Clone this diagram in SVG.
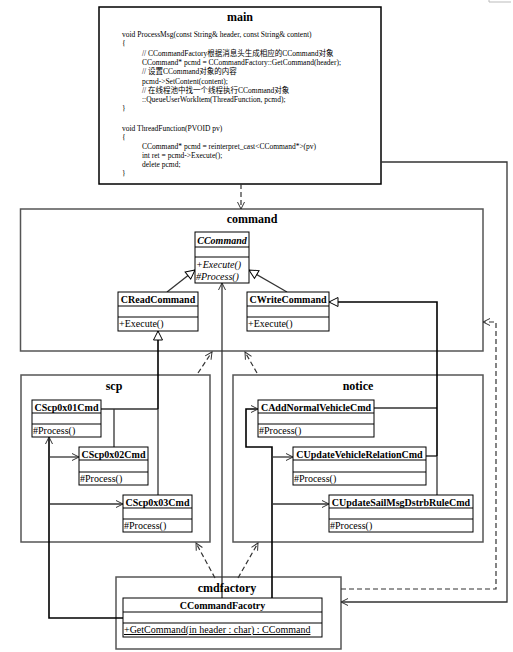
<svg xmlns="http://www.w3.org/2000/svg" width="513" height="652" viewBox="0 0 513 652">
<style>
.pkg{fill:#fff;stroke:#555;stroke-width:1.5}
.cls{fill:#fff;stroke:#000;stroke-width:1}
.sep{stroke:#000;stroke-width:1}
.ttl{font-family:"Liberation Serif",serif;font-weight:bold;font-size:12px;text-anchor:middle;fill:#000}
.cn{font-family:"Liberation Serif",serif;font-weight:bold;font-size:10px;text-anchor:middle;fill:#000}
.op{font-family:"Liberation Serif",serif;font-size:10px;fill:#000}
.code{font-family:"Liberation Serif","Noto Sans CJK SC",serif;font-size:7.5px;fill:#000}
.c{fill:none;stroke:#333;stroke-width:1.3}
.cb{fill:none;stroke:#000;stroke-width:1.6}
.d{fill:none;stroke:#333;stroke-width:1.2;stroke-dasharray:5 3}
</style>
<defs>
<marker id="open" viewBox="0 0 8 8" refX="7" refY="4" markerWidth="8" markerHeight="8" markerUnits="userSpaceOnUse" orient="auto" overflow="visible">
<path d="M0,0.5 L7,4 L0,7.5" fill="none" stroke="#333" stroke-width="1"/>
</marker>
<marker id="tri" viewBox="0 0 10 10" refX="9" refY="5" markerWidth="10" markerHeight="10" markerUnits="userSpaceOnUse" orient="auto" overflow="visible">
<path d="M0,0.5 L9,5 L0,9.5 z" fill="#fff" stroke="#000" stroke-width="1"/>
</marker>
</defs>
<rect width="513" height="652" fill="#fff"/>
<path d="M489,0 V2 H511" fill="none" stroke="#bbb" stroke-width="1"/>

<g id="pkg-main">
<rect x="99" y="7" width="282" height="177" fill="#fff" stroke="#000" stroke-width="1.5"/>
<text class="ttl" x="240" y="21">main</text>
<text class="code" x="122" y="37">void ProcessMsg(const String&amp; header, const String&amp; content)</text>
<text class="code" x="122" y="46.3">{</text>
<text class="code" x="142" y="55.6">// CCommandFactory根据消息头生成相应的CCommand对象</text>
<text class="code" x="142" y="64.9">CCommand* pcmd = CCommandFactory::GetCommand(header);</text>
<text class="code" x="142" y="74.2">// 设置CCommand对象的内容</text>
<text class="code" x="142" y="83.5">pcmd-&gt;SetContent(content);</text>
<text class="code" x="142" y="92.8">// 在线程池中找一个线程执行CCommand对象</text>
<text class="code" x="142" y="102.1">::QueueUserWorkItem(ThreadFunction, pcmd);</text>
<text class="code" x="122" y="111.4">}</text>
<text class="code" x="122" y="130.5">void ThreadFunction(PVOID pv)</text>
<text class="code" x="122" y="139.5">{</text>
<text class="code" x="142" y="148.7">CCommand* pcmd = reinterpret_cast&lt;CCommand*&gt;(pv)</text>
<text class="code" x="142" y="157.5">int ret = pcmd-&gt;Execute();</text>
<text class="code" x="142" y="166.5">delete pcmd;</text>
<text class="code" x="122" y="176.3">}</text>
</g>

<g id="pkg-command">
<rect class="pkg" x="20.5" y="209" width="462.5" height="142"/>
<text class="ttl" x="252" y="223">command</text>
</g>
<g id="pkg-scp">
<rect class="pkg" x="21" y="375" width="189" height="167"/>
<text class="ttl" x="114" y="390">scp</text>
</g>
<g id="pkg-notice">
<rect class="pkg" x="233" y="375" width="250" height="167"/>
<text class="ttl" x="358" y="390">notice</text>
</g>
<g id="pkg-cmdfactory">
<rect class="pkg" x="116" y="577" width="225" height="72"/>
</g>

<g id="connectors">
<path class="d" d="M241,184 V209" marker-end="url(#open)"/>
<path class="c" d="M381,162 H507 V602 H341" marker-end="url(#open)"/>
<path class="d" d="M341,589 H496 V322 H483" marker-end="url(#open)"/>
<path class="d" d="M198,373 L212,352" marker-end="url(#open)"/>
<path class="d" d="M257,373 L245,352" marker-end="url(#open)"/>
<path class="d" d="M215,578 L196,543" marker-end="url(#open)"/>
<path class="d" d="M238,578 L258,543" marker-end="url(#open)"/>
<path class="c" d="M222,598 V283" marker-end="url(#open)"/>
<path class="cb" d="M123,618 H49 V437" marker-end="url(#open)"/>
<path class="c" d="M49,457 H79" marker-end="url(#open)"/>
<path class="c" d="M49,504 H123" marker-end="url(#open)"/>
<path class="cb" d="M272,598 V447 H246 V409 H258" marker-end="url(#open)"/>
<path class="c" d="M272,457 H293" marker-end="url(#open)"/>
<path class="c" d="M272,504 H329" marker-end="url(#open)"/>
<path class="c" d="M167,292 L195,270" marker-end="url(#tri)"/>
<path class="c" d="M287,292 L249,270" marker-end="url(#tri)"/>
<path class="c" d="M101,409 H158 M114,447 V409"/>
<path class="c" d="M158,495 V409"/>
<path class="cb" d="M158,409 V331" marker-end="url(#tri)"/>
<path class="c" d="M374,408 H437 M426,456 H437 M437,495 V456"/>
<path class="cb" d="M437,456 V302 H329" marker-end="url(#tri)"/>
</g>

<text class="ttl" x="227" y="592">cmdfactory</text>

<g id="CCommand">
<rect class="cls" x="195" y="232" width="54" height="51"/>
<path class="sep" d="M195,247 H249 M195,257 H249"/>
<text class="cn" x="222" y="243.5" font-style="italic">CCommand</text>
<text class="op" x="196" y="267.5" font-style="italic">+Execute()</text>
<text class="op" x="196" y="279.5" font-style="italic">#Process()</text>
</g>
<g id="CReadCommand">
<rect class="cls" x="118" y="292" width="80" height="39"/>
<path class="sep" d="M118,306 H198 M118,317 H198"/>
<text class="cn" x="158" y="303">CReadCommand</text>
<text class="op" x="119" y="327">+Execute()</text>
</g>
<g id="CWriteCommand">
<rect class="cls" x="247" y="292" width="82" height="39"/>
<path class="sep" d="M247,306 H329 M247,317 H329"/>
<text class="cn" x="288" y="303">CWriteCommand</text>
<text class="op" x="248" y="327">+Execute()</text>
</g>
<g id="CScp0x01Cmd">
<rect class="cls" x="32" y="400" width="69" height="37"/>
<path class="sep" d="M32,413 H101 M32,424 H101"/>
<text class="cn" x="66.5" y="410.5">CScp0x01Cmd</text>
<text class="op" x="33" y="434">#Process()</text>
</g>
<g id="CScp0x02Cmd">
<rect class="cls" x="79" y="447" width="69" height="38"/>
<path class="sep" d="M79,460 H148 M79,472 H148"/>
<text class="cn" x="113.5" y="457.5">CScp0x02Cmd</text>
<text class="op" x="80" y="481.5">#Process()</text>
</g>
<g id="CScp0x03Cmd">
<rect class="cls" x="123" y="495" width="69" height="37"/>
<path class="sep" d="M123,508 H192 M123,519 H192"/>
<text class="cn" x="157.5" y="505.5">CScp0x03Cmd</text>
<text class="op" x="124" y="529">#Process()</text>
</g>
<g id="CAddNormalVehicleCmd">
<rect class="cls" x="258" y="400" width="116" height="37"/>
<path class="sep" d="M258,413 H374 M258,424 H374"/>
<text class="cn" x="316" y="410.5">CAddNormalVehicleCmd</text>
<text class="op" x="259" y="434">#Process()</text>
</g>
<g id="CUpdateVehicleRelationCmd">
<rect class="cls" x="293" y="447" width="133" height="38"/>
<path class="sep" d="M293,460 H426 M293,472 H426"/>
<text class="cn" x="359.5" y="457.5">CUpdateVehicleRelationCmd</text>
<text class="op" x="294" y="481.5">#Process()</text>
</g>
<g id="CUpdateSailMsgDstrbRuleCmd">
<rect class="cls" x="329" y="495" width="144" height="37"/>
<path class="sep" d="M329,508 H473 M329,519 H473"/>
<text class="cn" x="401" y="505.5">CUpdateSailMsgDstrbRuleCmd</text>
<text class="op" x="330" y="529">#Process()</text>
</g>
<g id="CCommandFacotry">
<rect class="cls" x="123" y="598" width="199" height="39"/>
<path class="sep" d="M123,612 H322 M123,623 H322"/>
<text class="cn" x="222.5" y="609">CCommandFacotry</text>
<text class="op" x="124" y="633" text-decoration="underline">+GetCommand(in header : char) : CCommand</text>
</g>
</svg>
